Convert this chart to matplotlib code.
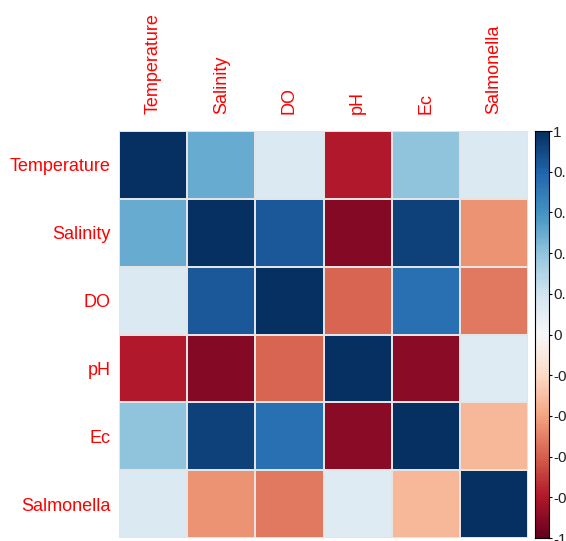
import numpy as np
import matplotlib.pyplot as plt
from matplotlib.colors import Normalize

plt.rcParams['font.family'] = ['Liberation Sans', 'DejaVu Sans']

variables = ['Temperature', 'Salinity', 'DO', 'pH', 'Ec', 'Salmonella']

# correlation matrix (row by row)
temperature = [1.00, 0.50, 0.15, -0.80, 0.40, 0.15]
salinity = [0.50, 1.00, 0.85, -0.92, 0.93, -0.45]
do = [0.15, 0.85, 1.00, -0.58, 0.75, -0.53]
ph = [-0.80, -0.92, -0.58, 1.00, -0.90, 0.13]
ec = [0.40, 0.93, 0.75, -0.90, 1.00, -0.33]
salmonella = [0.15, -0.45, -0.53, 0.13, -0.33, 1.00]

cbar_ticks = [1, 0.8, 0.6, 0.4, 0.2, 0, -0.2, -0.4, -0.6, -0.8, -1]

corr = np.array([temperature, salinity, do, ph, ec, salmonella])
n = len(variables)

fig = plt.figure(figsize=(5.66, 5.41), dpi=100)
ax = fig.add_axes([119 / 566, 1 - 538 / 541, 409 / 566, 407 / 541])

cmap = plt.get_cmap('RdBu')
norm = Normalize(vmin=-1, vmax=1)
ax.pcolormesh(np.arange(n + 1), np.arange(n + 1), corr, cmap=cmap, norm=norm,
              edgecolor='#e4e4e4', linewidth=0.3)
ax.set_xlim(0, n)
ax.set_ylim(n, 0)
for s in ax.spines.values():
    s.set_visible(False)

ax.set_xticks(np.arange(n) + 0.5)
ax.set_yticks(np.arange(n) + 0.5)
ax.xaxis.tick_top()
ax.set_xticklabels(variables, rotation=90, color='red', fontsize=13)
ax.set_yticklabels(variables, color='red', fontsize=13)
ax.tick_params(axis='y', length=0, pad=6)
ax.tick_params(axis='x', length=0, pad=12)

# colour legend
cax = fig.add_axes([535 / 566, 1 - 538 / 541, 14 / 566, 407 / 541])
grad = np.linspace(-1, 1, 200).reshape(-1, 1)
cax.pcolormesh([0, 1], np.linspace(-1, 1, 201), grad, cmap=cmap, norm=norm)
cax.set_xlim(0, 1)
cax.set_ylim(-1, 1)
cax.set_xticks([])
cax.yaxis.tick_right()
cax.set_yticks(cbar_ticks)
cax.set_yticklabels([('%g' % t) for t in cbar_ticks], fontsize=11, color='#222222')
cax.tick_params(axis='y', length=2, width=0.8, pad=1)
for s in cax.spines.values():
    s.set_linewidth(0.8)

fig.savefig('out.png', dpi=100)
